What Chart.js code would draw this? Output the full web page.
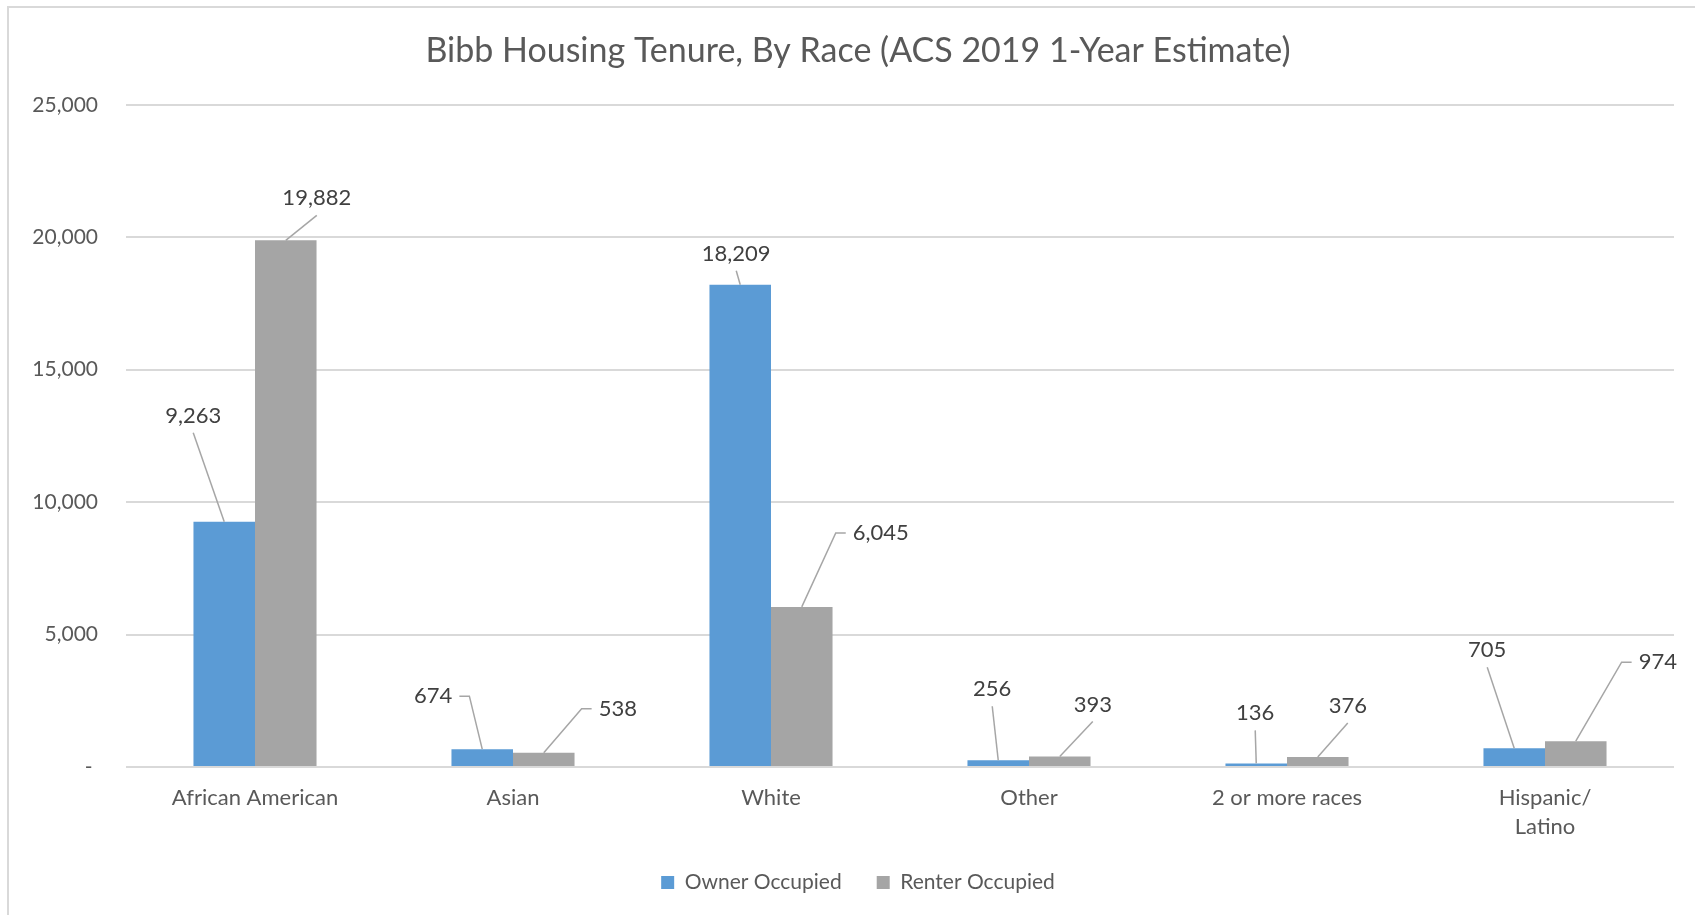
<!DOCTYPE html>
<html>
<head>
<meta charset="utf-8">
<title>Bibb Housing Tenure, By Race</title>
<script src="https://cdn.jsdelivr.net/npm/chart.js@4.4.1/dist/chart.umd.min.js"></script>
<style>
  html, body { margin: 0; padding: 0; background: #fff; }
  #wrap { width: 1695px; height: 915px; position: relative; }
</style>
</head>
<body>
<div id="wrap"><canvas id="chart"></canvas></div>
<script>
// data
const categories = ["African American", "Asian", "White", "Other", "2 or more races", ["Hispanic/", "Latino"]];
const ownerOccupied = [9263, 674, 18209, 256, 136, 705];
const renterOccupied = [19882, 538, 6045, 393, 376, 974];
const yTicks = [0, 5000, 10000, 15000, 20000, 25000];

// label offset from the top of its bar (px), and which side the leader line attaches to
const ownerLabelPos = [[-31, -106, "b"], [-49, -53, "r"], [-4, -31, "b"], [-6, -71, "b"], [-1, -50, "b"], [-27, -98, "b"]];
const renterLabelPos = [[31, -42, "b"], [74, -44, "l"], [79, -74, "l"], [33, -52, "b"], [30, -51, "b"], [82, -79, "l"]];

const FONT = "Lato";
const TEXT = "#595959";

// white background + the frame lines on the left and top
const frame = {
  id: "frame",
  beforeDraw(chart) {
    const ctx = chart.ctx;
    ctx.save();
    ctx.fillStyle = "#fff";
    ctx.fillRect(0, 0, chart.width, chart.height);
    ctx.strokeStyle = "#d9d9d9";
    ctx.lineWidth = 2;
    ctx.beginPath();
    ctx.moveTo(8, chart.height);
    ctx.lineTo(8, 7);
    ctx.lineTo(chart.width, 7);
    ctx.stroke();
    ctx.restore();
  }
};

// value labels with leader lines, excel style
const valueLabels = {
  id: "valueLabels",
  afterDatasetsDraw(chart) {
    const ctx = chart.ctx;
    ctx.save();
    ctx.font = "22px " + FONT;
    ctx.textAlign = "center";
    ctx.textBaseline = "middle";
    ctx.strokeStyle = "#a6a6a6";
    ctx.lineWidth = 1.5;
    [ownerLabelPos, renterLabelPos].forEach((pos, di) => {
      const meta = chart.getDatasetMeta(di);
      meta.data.forEach((bar, i) => {
        const v = chart.data.datasets[di].data[i];
        const txt = v.toLocaleString("en-US");
        const [dx, dy, side] = pos[i];
        const lx = bar.x + dx, ly = bar.y + dy;
        const w = ctx.measureText(txt).width;
        ctx.beginPath();
        if (side === "b") {
          ctx.moveTo(lx, ly + 17);
        } else if (side === "l") {
          ctx.moveTo(lx - w / 2 - 7, ly);
          ctx.lineTo(lx - w / 2 - 17, ly);
        } else {
          ctx.moveTo(lx + w / 2 + 7, ly);
          ctx.lineTo(lx + w / 2 + 17, ly);
        }
        ctx.lineTo(bar.x, bar.y);
        ctx.stroke();
        ctx.fillStyle = "#404040";
        ctx.fillText(txt, lx, ly);
      });
    });
    ctx.restore();
  }
};

new Chart(document.getElementById("chart"), {
  type: "bar",
  data: {
    labels: categories,
    datasets: [
      {
        label: "Owner Occupied",
        data: ownerOccupied,
        backgroundColor: "#5b9bd5",
        categoryPercentage: 0.477,
        barPercentage: 1.0
      },
      {
        label: "Renter Occupied",
        data: renterOccupied,
        backgroundColor: "#a5a5a5",
        categoryPercentage: 0.477,
        barPercentage: 1.0
      }
    ]
  },
  options: {
    responsive: true,
    maintainAspectRatio: false,
    animation: false,
    layout: { padding: { left: 21, right: 0, top: 0, bottom: 12 } },
    plugins: {
      title: {
        display: true,
        text: "Bibb Housing Tenure, By Race (ACS 2019 1-Year Estimate)",
        color: TEXT,
        font: { family: FONT, size: 34, weight: "normal" },
        padding: { top: 31, bottom: 33 }
      },
      legend: {
        position: "bottom",
        labels: {
          color: TEXT,
          font: { family: FONT, size: 21 },
          boxWidth: 13,
          boxHeight: 13,
          padding: 35
        }
      },
      tooltip: { enabled: false }
    },
    scales: {
      x: {
        grid: { display: false, drawTicks: false },
        border: { display: false },
        ticks: {
          color: TEXT,
          font: { family: FONT, size: 22, lineHeight: 1.3 },
          padding: 17,
          maxRotation: 0,
          autoSkip: false
        },
        afterFit(scale) { scale.height = 70; }
      },
      y: {
        min: 0,
        max: 25000,
        grid: { color: "#d9d9d9", lineWidth: 2, drawTicks: false },
        border: { display: false },
        ticks: {
          color: TEXT,
          font: { family: FONT, size: 21 },
          padding: 28,
          callback: (v) => (v === 0 ? "- " : v.toLocaleString("en-US"))
        },
        afterBuildTicks(scale) { scale.ticks = yTicks.map((v) => ({ value: v })); },
        afterFit(scale) { scale.width = 105; }
      },
      // empty right-hand strip so the plot stops short of the edge
      yRight: {
        position: "right",
        grid: { display: false, drawTicks: false },
        border: { display: false },
        ticks: { display: false },
        afterFit(scale) { scale.width = 21; }
      }
    }
  },
  plugins: [frame, valueLabels]
});
</script>
</body>
</html>
